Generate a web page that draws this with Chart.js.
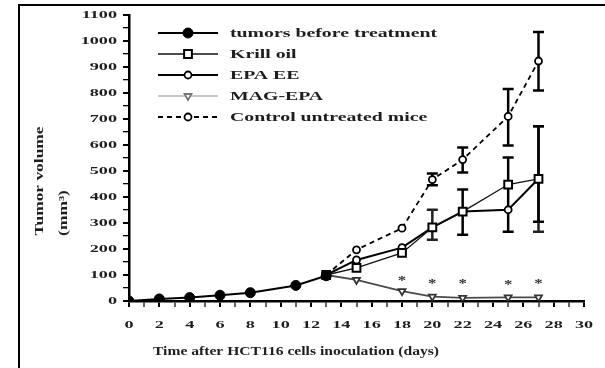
<!DOCTYPE html>
<html>
<head>
<meta charset="utf-8">
<script src="https://cdn.jsdelivr.net/npm/chart.js@4/dist/chart.umd.min.js"></script>
<style>
html,body{margin:0;padding:0;background:#fff;}
#wrap{width:605px;height:368px;position:relative;}
</style>
</head>
<body>
<div id="wrap"><canvas id="c" width="605" height="368"></canvas></div>
<script>
// ---- data ----
const tumorDays = [0, 2, 4, 6, 8, 11, 13];
const tumorVals = [0, 8, 13, 22, 32, 60, 97];

const treatDays = [13, 15, 18, 20, 22, 25, 27];

const krillVals = [100, 127, 185, 283, 344, 448, 470];
const krillLow  = [null, null, null, 236, null, null, 266];
const krillHigh = [null, null, null, 351, null, null, 672];

const epaVals = [100, 158, 205, 283, 344, 351, 470];
const epaLow  = [null, null, null, null, 255, 266, 305];
const epaHigh = [null, null, null, null, 429, 552, 672];

const magVals = [100, 81, 38, 17, 12, 14, 14];

const controlVals = [100, 197, 280, 467, 544, 710, 923];
const controlLow  = [null, null, null, 445, 494, 598, 810];
const controlHigh = [null, null, null, 490, 590, 815, 1035];

const sigDays = [18, 20, 22, 25, 27];
const sigVals = [88, 80, 80, 76, 80];
const sigMarks = ['*', '*', '*', '*', '*'];

const seriesNames = ['tumors before treatment', 'Krill oil', 'EPA EE', 'MAG-EPA', 'Control untreated mice'];

const xTickMax = 30;
const yTickMax = 1100;
const xTitle = 'Time after HCT116 cells inoculation (days)';
const yTitle1 = 'Tumor volume';
const yTitle2 = '(mm\u00B3)';

// ---- helpers ----
function pts(xs, ys) { return xs.map((x, i) => ({x: x, y: ys[i]})); }

const TXT = '#1e1e1e';
function stretchText(ctx, text, x, y, opt) {
  ctx.save();
  ctx.translate(x, y);
  if (opt.rotate) ctx.rotate(-Math.PI / 2);
  ctx.scale(opt.sx || 1, 1);
  ctx.font = opt.font;
  ctx.fillStyle = opt.color || TXT;
  ctx.textAlign = opt.align || 'left';
  ctx.textBaseline = 'middle';
  ctx.fillText(text, 0, 0);
  ctx.restore();
}

const frame = {
  id: 'frame',
  beforeDraw(chart) {
    const ctx = chart.ctx;
    ctx.save();
    ctx.fillStyle = '#fff';
    ctx.fillRect(0, 0, chart.width, chart.height);
    ctx.strokeStyle = '#000';
    ctx.lineWidth = 2;
    ctx.beginPath();
    ctx.moveTo(19, chart.height);
    ctx.lineTo(19, 5);
    ctx.lineTo(chart.width, 5);
    ctx.stroke();
    ctx.restore();
  }
};

const errorBars = {
  id: 'errorBars',
  beforeDatasetsDraw(chart) {
    const ctx = chart.ctx, xs = chart.scales.x, ys = chart.scales.y;
    chart.data.datasets.forEach(ds => {
      if (!ds.errLow) return;
      ds.data.forEach((p, i) => {
        const lo = ds.errLow[i], hi = ds.errHigh[i];
        if (lo == null || hi == null) return;
        const px = xs.getPixelForValue(p.x);
        const yl = ys.getPixelForValue(lo), yh = ys.getPixelForValue(hi);
        ctx.save();
        ctx.strokeStyle = ds.errColor || '#000';
        ctx.lineWidth = 2.5;
        ctx.beginPath();
        ctx.moveTo(px, yl); ctx.lineTo(px, yh);
        ctx.moveTo(px - 5.5, yl); ctx.lineTo(px + 5.5, yl);
        ctx.moveTo(px - 5.5, yh); ctx.lineTo(px + 5.5, yh);
        ctx.stroke();
        ctx.restore();
      });
    });
  }
};

const extras = {
  id: 'extras',
  afterDraw(chart) {
    const ctx = chart.ctx, xs = chart.scales.x, ys = chart.scales.y;
    const tickFont = 'bold 11px "Liberation Serif"';
    // y tick labels
    ys.ticks.forEach(t => {
      if (t.value % 100 !== 0) return;
      stretchText(ctx, String(t.value), chart.chartArea.left - 12, ys.getPixelForValue(t.value) + 0.5,
        {font: tickFont, sx: 1.65, align: 'right'});
    });
    // x tick labels
    xs.ticks.forEach(t => {
      if (t.value % 2 !== 0) return;
      stretchText(ctx, String(t.value), xs.getPixelForValue(t.value), chart.chartArea.bottom + 24,
        {font: tickFont, sx: 1.65, align: 'center'});
    });
    // significance marks
    sigDays.forEach((d, i) => {
      stretchText(ctx, sigMarks[i], xs.getPixelForValue(d), ys.getPixelForValue(sigVals[i]) + 3,
        {font: 'bold 13px "Liberation Serif"', sx: 1.3, align: 'center', color: '#333'});
    });
    // axis titles
    stretchText(ctx, xTitle, 296, 352, {font: 'bold 12px "Liberation Serif"', sx: 1.3, align: 'center'});
    stretchText(ctx, yTitle1, 40, 181, {font: 'bold 12px "Liberation Serif"', sx: 1.45, align: 'center', rotate: true});
    stretchText(ctx, yTitle2, 64, 213, {font: 'bold 12px "Liberation Serif"', sx: 1.45, align: 'center', rotate: true});
    // legend
    chart.data.datasets.forEach((ds, i) => {
      const y = 33 + i * 21;
      ctx.save();
      ctx.strokeStyle = ds.legendColor || ds.borderColor;
      ctx.lineWidth = ds.borderWidth;
      ctx.setLineDash(ds.borderDash || []);
      ctx.beginPath();
      ctx.moveTo(158, y); ctx.lineTo(218, y);
      ctx.stroke();
      ctx.setLineDash([]);
      ctx.fillStyle = ds.pointBackgroundColor;
      ctx.strokeStyle = ds.legendPointColor || ds.pointBorderColor;
      ctx.lineWidth = ds.pointBorderWidth;
      Chart.helpers.drawPoint(ctx, {pointStyle: ds.pointStyle, rotation: ds.pointRotation || 0,
        radius: ds.pointRadius, borderWidth: ds.pointBorderWidth}, 188, y);
      ctx.restore();
      stretchText(ctx, ds.label, 230, y + 1, {font: 'bold 12px "Liberation Serif"', sx: 1.65, align: 'left'});
    });
  }
};

const datasets = [
  {
    label: seriesNames[0], data: pts(tumorDays, tumorVals),
    borderColor: '#000', borderWidth: 2, pointStyle: 'circle', pointRadius: 5,
    pointBackgroundColor: '#000', pointBorderColor: '#000', pointBorderWidth: 1
  },
  {
    label: seriesNames[1], data: pts(treatDays, krillVals), errLow: krillLow, errHigh: krillHigh, errColor: '#222',
    borderColor: '#111', borderWidth: 1.3, pointStyle: 'rect', pointRadius: 5.5,
    pointBackgroundColor: '#fff', pointBorderColor: '#000', pointBorderWidth: 2
  },
  {
    label: seriesNames[2], data: pts(treatDays, epaVals), errLow: epaLow, errHigh: epaHigh,
    borderColor: '#000', borderWidth: 2, pointStyle: 'circle', pointRadius: 3.5,
    pointBackgroundColor: '#fff', pointBorderColor: '#000', pointBorderWidth: 1.8
  },
  {
    label: seriesNames[3], data: pts(treatDays, magVals),
    borderColor: '#4a4a4a', legendColor: '#c8c8c8', legendPointColor: '#777', borderWidth: 1.8,
    pointStyle: 'triangle', pointRotation: 180, pointRadius: 4,
    pointBackgroundColor: '#fff', pointBorderColor: '#333', pointBorderWidth: 1.8
  },
  {
    label: seriesNames[4], data: pts(treatDays, controlVals), errLow: controlLow, errHigh: controlHigh,
    borderColor: '#000', borderWidth: 1.8, borderDash: [5, 4], pointStyle: 'circle', pointRadius: 3.5,
    pointBackgroundColor: '#fff', pointBorderColor: '#000', pointBorderWidth: 1.8
  }
];

new Chart(document.getElementById('c'), {
  type: 'line',
  data: { datasets: datasets },
  options: {
    responsive: false,
    animation: false,
    devicePixelRatio: 1,
    layout: { padding: { left: 0, top: 15, right: 21, bottom: 0 } },
    plugins: { legend: { display: false }, tooltip: { enabled: false } },
    elements: { line: { tension: 0, fill: false } },
    scales: {
      x: {
        type: 'linear', min: 0, max: xTickMax,
        border: { display: true, color: '#000', width: 2.5 },
        grid: { drawOnChartArea: false, drawTicks: true, tickLength: 6,
                color: c => (c.tick && c.tick.value % 2 === 0) ? '#000' : '#666',
                lineWidth: 2 },
        ticks: { display: false, stepSize: 1, autoSkip: false },
        afterFit: s => { s.height = 67; }
      },
      y: {
        type: 'linear', min: 0, max: yTickMax,
        border: { display: true, color: '#000', width: 2.5 },
        grid: { drawOnChartArea: false, drawTicks: true, tickLength: 6, color: '#000',
                lineWidth: c => (c.tick && c.tick.value % 100 === 0) ? 2 : 1.3 },
        ticks: { display: false, stepSize: 50 },
        afterFit: s => { s.width = 129; }
      }
    }
  },
  plugins: [frame, errorBars, extras]
});
</script>
</body>
</html>
